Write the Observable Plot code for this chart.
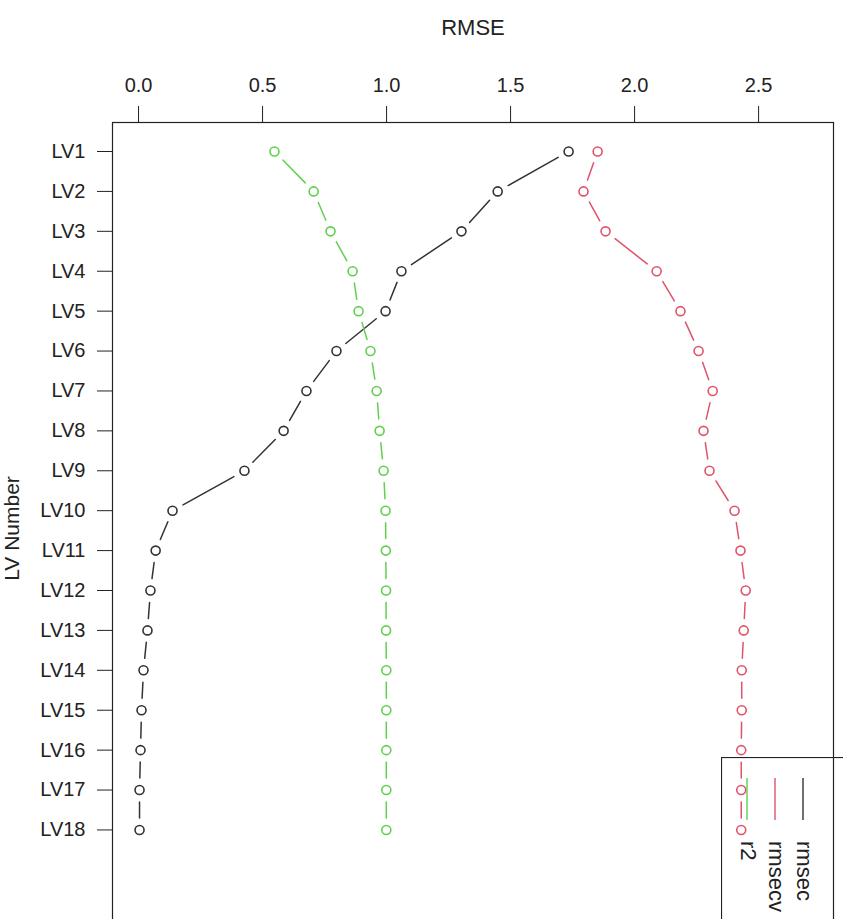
<!DOCTYPE html>
<html>
<head>
<meta charset="utf-8">
<script src="https://cdn.jsdelivr.net/npm/d3@7"></script>
<script src="https://cdn.jsdelivr.net/npm/@observablehq/plot@0.6"></script>
<style>
  html, body { margin: 0; padding: 0; background: #fff; overflow: hidden; }
  #wrap { position: relative; width: 843px; height: 919px; overflow: hidden; }
  #legend { position: absolute; left: 721px; top: 757px; }
</style>
</head>
<body>
<div id="wrap"></div>
<script>
// ---- data ----
const lvLabels = ["LV1","LV2","LV3","LV4","LV5","LV6","LV7","LV8","LV9","LV10",
                  "LV11","LV12","LV13","LV14","LV15","LV16","LV17","LV18"];
const rmsec  = [1.734, 1.448, 1.302, 1.060, 0.996, 0.798, 0.677, 0.585, 0.427, 0.137,
                0.069, 0.048, 0.036, 0.020, 0.012, 0.008, 0.004, 0.004];
const rmsecv = [1.851, 1.794, 1.883, 2.089, 2.185, 2.258, 2.315, 2.278, 2.302, 2.403,
                2.427, 2.448, 2.440, 2.432, 2.432, 2.430, 2.430, 2.430];
const r2     = [0.548, 0.706, 0.774, 0.863, 0.887, 0.935, 0.960, 0.972, 0.988, 0.996,
                0.997, 0.998, 0.998, 0.999, 0.999, 0.999, 0.999, 0.999];
const seriesNames  = ["rmsec", "rmsecv", "r2"];
const seriesColors = ["#333333", "#DF536B", "#61D04F"];
const xTicks = [0, 0.5, 1.0, 1.5, 2.0, 2.5];

const seriesValues = {rmsec, rmsecv, r2};
const rows = [];
const segments = [];
seriesNames.forEach(s => {
  const vals = seriesValues[s];
  vals.forEach((v, i) => {
    rows.push({series: s, lv: lvLabels[i], idx: i + 1, value: v});
    if (i > 0) segments.push({series: s, x1: vals[i - 1], y1: i, x2: v, y2: i + 1});
  });
});
const colorOf = Object.fromEntries(seriesNames.map((s, i) => [s, seriesColors[i]]));
const font = "'Liberation Sans', Arial, sans-serif";

const chart = Plot.plot({
  width: 843,
  height: 950,
  marginLeft: 112,
  marginRight: 10,
  marginTop: 122,
  marginBottom: 16,
  style: {fontFamily: font, fontSize: "20px", color: "#222", background: "#fff"},
  x: {domain: [-0.105, 2.802]},
  y: {domain: [0.273, 20.62], reverse: true},
  marks: [
    Plot.frame({stroke: "#222", strokeWidth: 1.2}),
    Plot.axisX({anchor: "top", ticks: xTicks, tickFormat: d3.format(".1f"), tickSize: 17,
                tickPadding: 14, label: null, fontSize: 20, stroke: "#222"}),
    Plot.axisX({anchor: "top", ticks: [], label: "RMSE", labelAnchor: "center", labelArrow: "none",
                labelOffset: 103, fontSize: 22}),
    Plot.axisY({anchor: "left", ticks: lvLabels.map((d, i) => i + 1),
                tickFormat: i => lvLabels[i - 1], tickSize: 15, tickPadding: 12,
                label: null, fontSize: 20, stroke: "#222"}),
    Plot.axisY({anchor: "left", ticks: [], label: "LV Number", labelAnchor: "center", labelArrow: "none",
                labelOffset: 108, fontSize: 21}),
    ...seriesNames.map(s => Plot.arrow(segments.filter(d => d.series === s),
        {x1: "x1", y1: "y1", x2: "x2", y2: "y2", stroke: colorOf[s], strokeWidth: 1.5,
         headLength: 0, inset: 12})),
    ...seriesNames.map(s => Plot.dot(rows.filter(d => d.series === s),
        {x: "value", y: "idx", r: 4.5, fill: "none", stroke: colorOf[s], strokeWidth: 1.6}))
  ]
});
document.getElementById("wrap").appendChild(chart);

// ---- legend (rotated, bottom-right, as in the reference) ----
const leg = d3.select("#wrap").append("svg").attr("id", "legend")
  .attr("width", 130).attr("height", 170)
  .style("font-family", font);
leg.append("rect").attr("x", 0.5).attr("y", 0.5).attr("width", 160).attr("height", 200)
  .attr("fill", "none").attr("stroke", "#222").attr("stroke-width", 1.2);
const order = ["r2", "rmsecv", "rmsec"];
order.forEach((s, i) => {
  const x = 26 + i * 28;
  leg.append("line").attr("x1", x).attr("x2", x).attr("y1", 21).attr("y2", 63)
    .attr("stroke", colorOf[s]).attr("stroke-width", 1.4);
  leg.append("text").attr("transform", `translate(${x},84) rotate(90)`)
    .attr("dominant-baseline", "middle").attr("font-size", 22).attr("fill", "#222").text(s);
});
</script>
</body>
</html>
